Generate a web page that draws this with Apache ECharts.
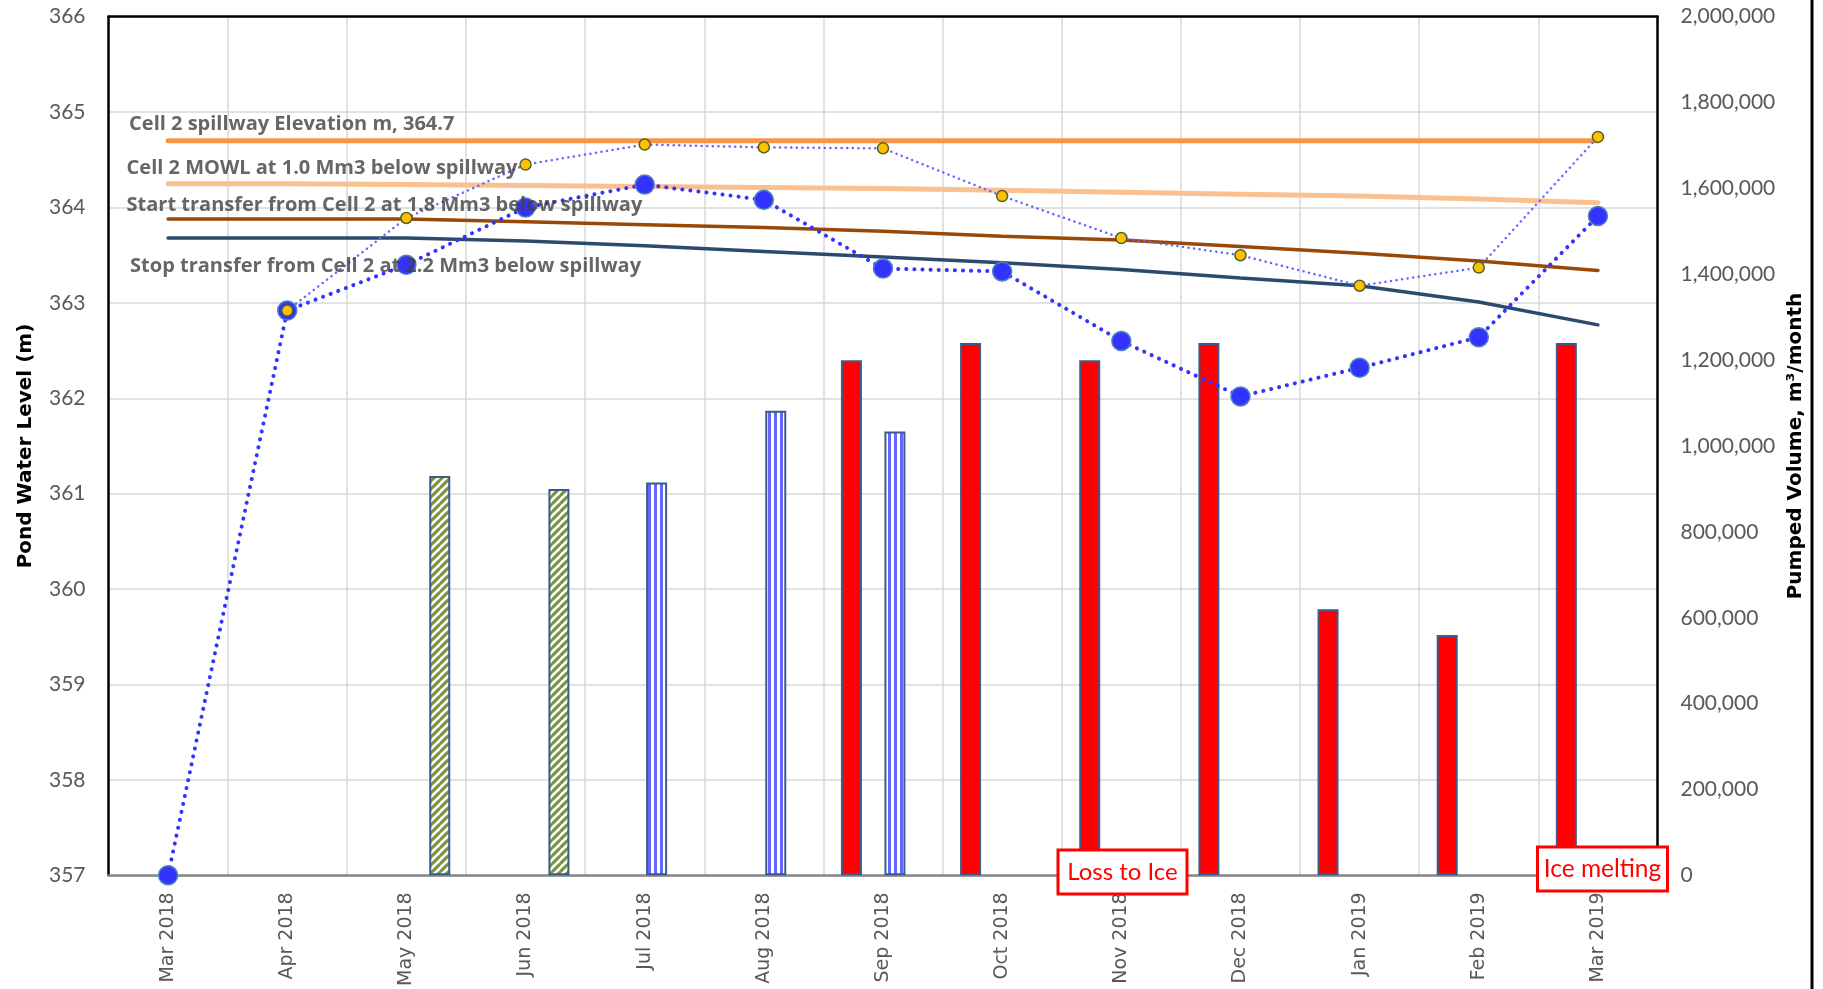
<!DOCTYPE html>
<html><head><meta charset="utf-8">
<script src="https://cdn.jsdelivr.net/npm/echarts@6/dist/echarts.min.js"></script>
<style>html,body{margin:0;padding:0;background:#fff}#c{width:1823px;height:989px}</style>
</head><body><div id="c"></div>
<script>
// ---- data ----
const months = ['Mar 2018','Apr 2018','May 2018','Jun 2018','Jul 2018','Aug 2018','Sep 2018','Oct 2018','Nov 2018','Dec 2018','Jan 2019','Feb 2019','Mar 2019'];
const pondLevel = [357.00, 362.92, 363.40, 364.00, 364.24, 364.08, 363.36, 363.33, 362.60, 362.02, 362.32, 362.64, 363.91];
const cellLevel = [null, 362.92, 363.89, 364.45, 364.66, 364.63, 364.62, 364.12, 363.68, 363.50, 363.18, 363.37, 364.74];
const spillway = [364.70, 364.70, 364.70, 364.70, 364.70, 364.70, 364.70, 364.70, 364.70, 364.70, 364.70, 364.70, 364.70];
const mowl = [364.25, 364.25, 364.24, 364.23, 364.22, 364.21, 364.20, 364.18, 364.16, 364.14, 364.12, 364.09, 364.05];
const startTransfer = [363.88, 363.88, 363.88, 363.85, 363.82, 363.79, 363.75, 363.70, 363.66, 363.59, 363.52, 363.44, 363.34];
const stopTransfer = [363.68, 363.68, 363.68, 363.65, 363.60, 363.54, 363.48, 363.42, 363.35, 363.26, 363.18, 363.01, 362.77];
// pumping events: time in months since Mar 2018, volume m3/month, kind
const pumpTime = [2.28, 3.28, 4.10, 5.10, 5.735, 6.10, 6.735, 7.735, 8.735, 9.735, 10.735, 11.735];
const pumpVolume = [930000, 900000, 915000, 1082000, 1200000, 1034000, 1240000, 1200000, 1240000, 620000, 560000, 1240000];
const pumpKind = ['hatch','hatch','stripe','stripe','solid','stripe','solid','solid','solid','solid','solid','solid'];
const lineNames = ['Cell 2 spillway Elevation m, 364.7','Cell 2 MOWL at 1.0 Mm3 below spillway','Start transfer from Cell 2 at 1.8 Mm3 below spillway','Stop transfer from Cell 2 at 2.2 Mm3 below spillway'];
const leftTicks = {min: 357, max: 366, step: 1};
const rightTicks = {min: 0, max: 2000000, step: 200000};

// ---- patterns ----
function hatchCanvas(){
  const c = document.createElement('canvas'); c.width = 8; c.height = 8;
  const g = c.getContext('2d');
  g.fillStyle = '#fff'; g.fillRect(0,0,8,8);
  g.strokeStyle = '#77933C'; g.lineWidth = 2.8; g.lineCap = 'square';
  [[-8,8,0,0],[0,8,8,0],[0,16,16,0],[-8,16,8,0]].forEach(s=>{g.beginPath();g.moveTo(s[0],s[1]);g.lineTo(s[2],s[3]);g.stroke();});
  return c;
}
function stripeCanvas(){
  const c = document.createElement('canvas'); c.width = 6; c.height = 4;
  const g = c.getContext('2d');
  g.fillStyle = '#fff'; g.fillRect(0,0,6,4);
  g.fillStyle = '#6666FF'; g.fillRect(0,0,3,4);
  return c;
}
const border = '#385D8A';
const barStyles = {
  hatch: {color: {image: hatchCanvas(), repeat: 'repeat'}, borderColor: border, borderWidth: 2},
  stripe: {color: {image: stripeCanvas(), repeat: 'repeat'}, borderColor: border, borderWidth: 2},
  solid: {color: '#FF0000', borderColor: border, borderWidth: 2}
};

const toXY = arr => arr.map((v,i)=>[i,v]).filter(p=>p[1]!=null);
const refLines = [
  {data: spillway, color: '#F79646', width: 5, dx: -39, dy: -16},
  {data: mowl, color: '#FAC090', width: 5, dx: -41.5, dy: -15},
  {data: startTransfer, color: '#984807', width: 3.5, dx: -41.5, dy: -13.5},
  {data: stopTransfer, color: '#2C4A6E', width: 3.5, dx: -38, dy: 28.5}
];

const chart = echarts.init(document.getElementById('c'), null, {renderer: 'canvas'});
const series = [];
series.push({
  type: 'bar', name: 'Pumped volume', xAxisIndex: 1, yAxisIndex: 1, barWidth: 21, z: 2,
  data: pumpTime.map((t,i)=>({value: [t, pumpVolume[i]], itemStyle: barStyles[pumpKind[i]]}))
});
refLines.forEach((r,k)=>{
  series.push({
    type: 'line', name: lineNames[k], xAxisIndex: 1, yAxisIndex: 0, z: 3,
    symbol: 'none', data: toXY(r.data),
    lineStyle: {color: r.color, width: r.width, cap: 'round'}
  });
});
series.push({
  type: 'line', name: 'Pond water level', xAxisIndex: 1, yAxisIndex: 0, z: 4,
  symbol: 'circle', symbolSize: 19, data: toXY(pondLevel),
  itemStyle: {color: '#3333FF', borderColor: '#4F81BD', borderWidth: 1.5},
  lineStyle: {color: '#3333FF', width: 4, type: [0.1, 8], cap: 'round'}
});
series.push({
  type: 'line', name: 'Cell level', xAxisIndex: 1, yAxisIndex: 0, z: 5,
  symbol: 'circle', symbolSize: 11, data: toXY(cellLevel),
  itemStyle: {color: '#FFC000', borderColor: '#4F6228', borderWidth: 1.5},
  lineStyle: {color: '#6666FF', width: 2.5, type: [0.1, 5.5], cap: 'round'}
});
series.push({
  type: 'scatter', name: 'labels', xAxisIndex: 1, yAxisIndex: 0, z: 8,
  symbolSize: 0, silent: true,
  data: refLines.map((r,k)=>({
    value: [0, r.data[0]],
    label: {show: true, position: 'inside', offset: [r.dx, r.dy], align: 'left', verticalAlign: 'middle',
      formatter: lineNames[k], color: '#404040', fontFamily: 'Open Sans', fontWeight: 'bold', fontSize: 20}
  }))
});

chart.setOption({
  animation: false,
  backgroundColor: '#fff',
  grid: {left: 108.5, right: 165.5, top: 16.7, bottom: 110, containLabel: false},
  xAxis: [
    {type: 'category', data: months, boundaryGap: true, position: 'bottom',
     axisLine: {show: true, onZero: false, lineStyle: {color: '#868686', width: 2.5}},
     axisTick: {show: false},
     splitLine: {show: true, lineStyle: {color: '#D9D9D9', width: 1.5}},
     axisLabel: {rotate: 90, margin: 17, color: '#595959', fontFamily: 'DejaVu Sans', fontSize: 19, interval: 0}},
    {type: 'value', min: -0.5, max: 12.5, position: 'top',
     axisLine: {show: true, onZero: false, lineStyle: {color: '#000', width: 2.5}},
     axisTick: {show: false}, axisLabel: {show: false}, splitLine: {show: false}}
  ],
  yAxis: [
    {type: 'value', min: leftTicks.min, max: leftTicks.max, interval: leftTicks.step, position: 'left',
     name: 'Pond Water Level (m)', nameLocation: 'middle', nameGap: 73, nameRotate: 90,
     nameTextStyle: {color: '#000', fontFamily: 'DejaVu Sans', fontWeight: 'bold', fontSize: 20},
     axisLine: {show: true, onZero: false, lineStyle: {color: '#000', width: 2.5}},
     axisTick: {show: false},
     splitLine: {show: true, lineStyle: {color: '#D9D9D9', width: 1.5}},
     axisLabel: {margin: 23, color: '#595959', fontFamily: 'Lato', fontSize: 21}},
    {type: 'value', min: rightTicks.min, max: rightTicks.max, interval: rightTicks.step, position: 'right',
     name: 'Pumped Volume, m³/month', nameLocation: 'middle', nameGap: 125, nameRotate: 90,
     nameTextStyle: {color: '#000', fontFamily: 'DejaVu Sans', fontWeight: 'bold', fontSize: 20},
     axisLine: {show: true, onZero: false, lineStyle: {color: '#000', width: 2.5}},
     axisTick: {show: false}, splitLine: {show: false},
     axisLabel: {margin: 23, color: '#595959', fontFamily: 'Lato', fontSize: 21,
       formatter: v => v.toLocaleString('en-US')}}
  ],
  series: series,
  graphic: [
    {type: 'line', z: 100, shape: {x1: 1812, y1: 0, x2: 1812, y2: 989}, style: {stroke: '#000', lineWidth: 3}},
    {type: 'rect', z: 100, shape: {x: 1058, y: 850, width: 129, height: 44}, style: {fill: '#fff', stroke: '#FF0000', lineWidth: 3}},
    {type: 'text', z: 101, x: 1122.5, y: 872, style: {text: 'Loss to Ice', fill: '#FF0000', font: '24px Lato', textAlign: 'center', textVerticalAlign: 'middle'}},
    {type: 'rect', z: 100, shape: {x: 1537.5, y: 847, width: 130, height: 44}, style: {fill: '#fff', stroke: '#FF0000', lineWidth: 3}},
    {type: 'text', z: 101, x: 1602.5, y: 869, style: {text: 'Ice melting', fill: '#FF0000', font: '24.5px Lato', textAlign: 'center', textVerticalAlign: 'middle'}}
  ]
});
</script></body></html>
